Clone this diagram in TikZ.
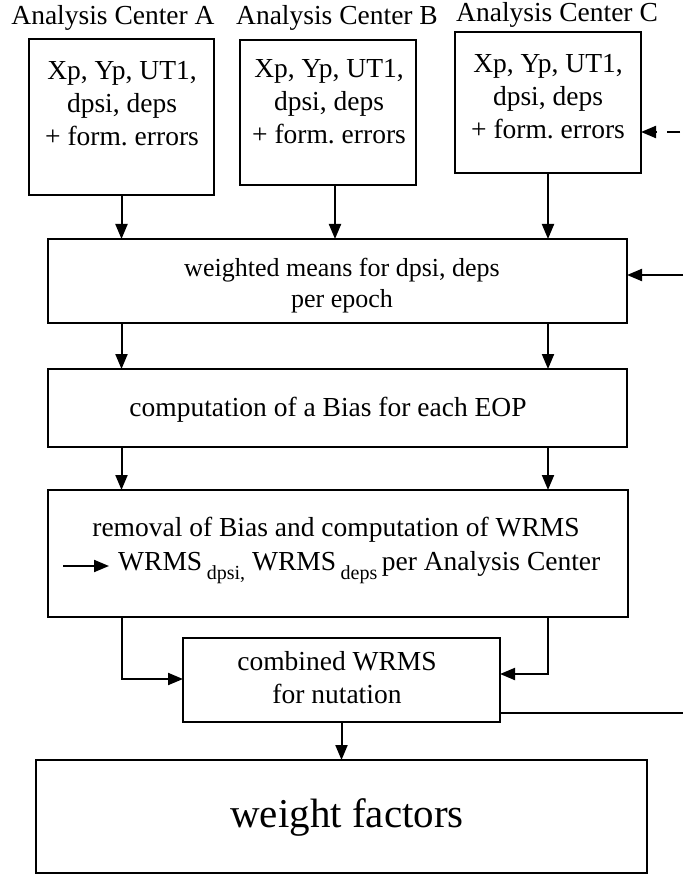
\documentclass[tikz,border=0pt]{standalone}
\usepackage{fontspec}
\setmainfont{Liberation Serif}
\usetikzlibrary{arrows.meta}
\frenchspacing
\begin{document}
\begin{tikzpicture}[x=1pt,y=-1pt,
  box/.style={draw, line width=2.2pt, inner sep=0pt, outer sep=0pt},
  txt/.style={align=center, inner sep=0pt, font=\fontsize{27.5}{33}\selectfont},
  arr/.style={line width=2pt, -{Triangle[length=15pt,width=12pt]}},
  ln/.style={line width=2pt}]
\useasboundingbox (0,0) rectangle (683,877);
% top labels
\node[txt] (labA) at (113,18) {Analysis Center A};
\node[txt] (labB) at (337,18) {Analysis Center B};
\node[txt] (labC) at (557,15) {Analysis Center C};
% analysis center boxes
\node[box, minimum width=185pt, minimum height=156pt] (A) at (121.5,117) {};
\node[box, minimum width=176pt, minimum height=145pt] (B) at (328,112.5) {};
\node[box, minimum width=186pt, minimum height=141pt] (C) at (548,102.5) {};
\node[txt] (tA) at (122,104) {Xp, Yp, UT1,\\dpsi, deps\\+ form. errors};
\node[txt] (tB) at (329,102) {Xp, Yp, UT1,\\dpsi, deps\\+ form. errors};
\node[txt] (tC) at (548,97) {Xp, Yp, UT1,\\dpsi, deps\\+ form. errors};
% weighted means
\node[box, minimum width=579pt, minimum height=84pt] (W) at (337.5,281) {};
\node[txt, font=\fontsize{26}{31}\selectfont] (tW) at (342,286) {weighted means for dpsi, deps\\per epoch};
% computation
\node[box, minimum width=579pt, minimum height=78pt] (P) at (337.5,408) {};
\node[txt] (tP) at (328,410) {computation of a Bias for each EOP};
% removal
\node[box, minimum width=580pt, minimum height=127pt] (R) at (338,553.5) {};
\node[txt] (tR1) at (336,530) {removal of Bias and computation of WRMS};
\node[txt, anchor=west] (tR2) at (118,568) {WRMS\,\raisebox{-9pt}{\fontsize{20}{20}\selectfont dpsi,} WRMS\,\raisebox{-9pt}{\fontsize{20}{20}\selectfont deps}\,per Analysis Center};
\coordinate (rs) at (63,566);
\draw[arr, shorten >=9pt] (rs) -- (rs -| tR2.west);
% combined
\node[box, minimum width=317pt, minimum height=84pt] (Cb) at (341.5,680) {};
\node[txt] (tCb) at (337,677.5) {combined WRMS\\for nutation};
% weight factors
\node[box, minimum width=611pt, minimum height=113pt] (F) at (341.5,816.5) {};
\node[txt, font=\fontsize{41}{44}\selectfont] (tF) at (347,817) {weight factors};
% connectors
\draw[arr] (A.south) -- (A.south |- W.north);
\draw[arr] ([xshift=7pt]B.south) -- ([xshift=7pt]B.south |- W.north);
\draw[arr] (C.south) -- (C.south |- W.north);
\coordinate (inC) at (680,132);
\draw[arr, dash pattern=on 13pt off 10pt] (inC) -- (C.east |- inC);
\coordinate (inW) at (683,275);
\draw[arr] (inW) -- (W.east |- inW);
\draw[arr] (W.south -| A.south) -- (P.north -| A.south);
\draw[arr] (W.south -| C.south) -- (P.north -| C.south);
\draw[arr] (P.south -| A.south) -- (R.north -| A.south);
\draw[arr] (P.south -| C.south) -- (R.north -| C.south);
\draw[arr] (R.south -| A.south) |- ([yshift=1pt]Cb.west);
\draw[arr] (R.south -| C.south) |- ([yshift=6pt]Cb.east);
\coordinate (outR) at (683,713);
\draw[ln] (Cb.east |- outR) -- (outR);
\draw[arr] (Cb.south) -- (Cb.south |- F.north);
\end{tikzpicture}
\end{document}
